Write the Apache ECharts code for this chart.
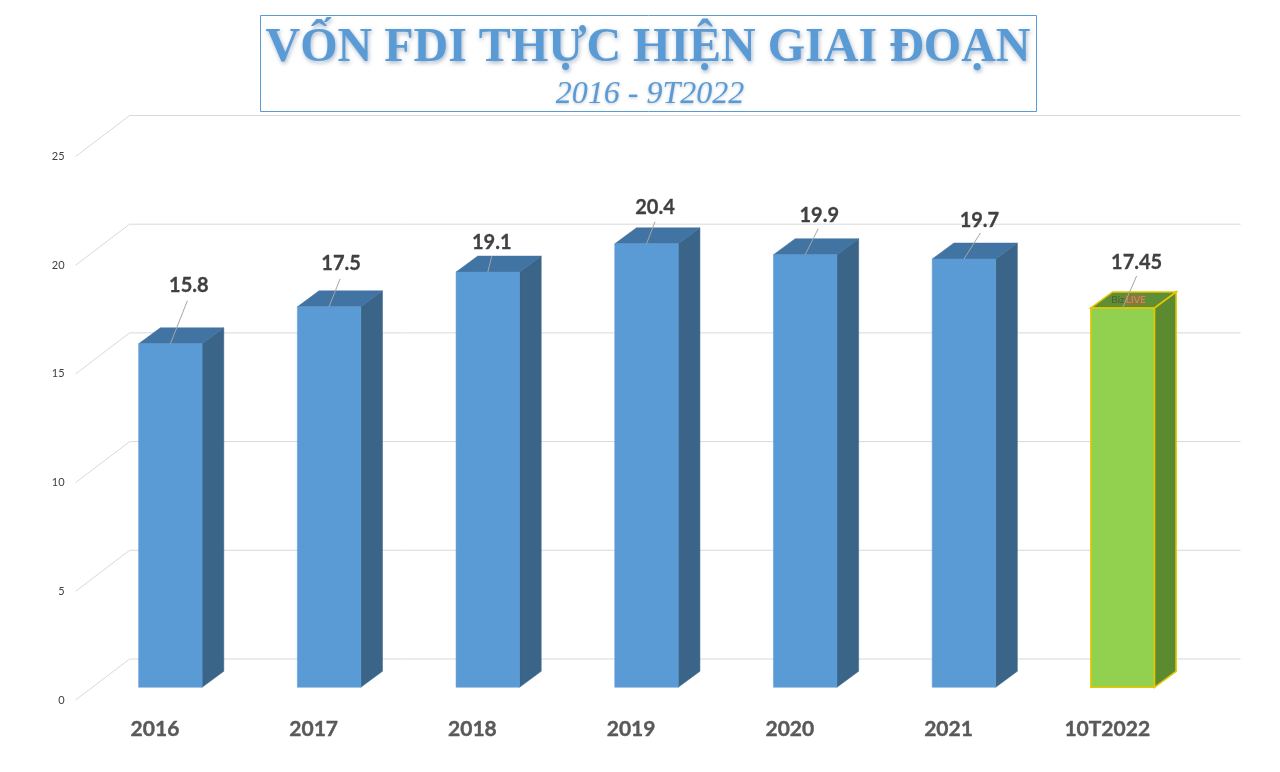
<!DOCTYPE html>
<html><head><meta charset="utf-8">
<style>html,body{margin:0;padding:0;background:#fff}#c{width:1280px;height:772px}</style>
<script src="https://cdn.jsdelivr.net/npm/echarts@6/dist/echarts.min.js"></script>
</head><body><div id="c"></div>
<script>
const categories = ['2016','2017','2018','2019','2020','2021','10T2022'];
const fdiValues = [15.8,17.5,19.1,20.4,19.9,19.7,17.45];
const yTicks = [0,5,10,15,20,25];
const highlightIndex = 6;
const titleText = 'VỐN FDI THỰC HIỆN GIAI ĐOẠN';
const subtitleText = '2016 - 9T2022';

// 3D projection style
const wall = {dx:54, dy:-41};
const barOffset = {dx:15.4, dy:-12.7};
const barDepth = {dx:21.7, dy:-16};
const barShare = 0.4;
// label / leader placement relative to each bar's front top-centre
const labelShift = [[18.5,-58],[12,-43],[4,-29.5],[8.5,-36.5],[14,-39],[15.5,-38],[14,-45]];
const leaderStart = [[17,-43],[11,-28],[4,-16],[8.5,-22],[13,-26],[16.5,-26],[14,-32]];

const chart = echarts.init(document.getElementById('c'),null,{renderer:'canvas'});

function poly(points,fill,stroke,lw){
  return {type:'polygon',shape:{points},style:{fill,stroke:stroke||fill,lineWidth:lw||0.5}};
}
function renderBar(params,api){
  const i=api.value(0), v=api.value(1);
  const top=api.coord([i,v]), base=api.coord([i,0]);
  const w=api.size([1,0])[0]*barShare;
  const cx=top[0]+barOffset.dx;
  const l=cx-w/2, r=cx+w/2, yt=top[1]+barOffset.dy, yb=base[1]+barOffset.dy;
  const d=barDepth, hi=i===highlightIndex;
  const stroke=hi?'#E5C700':null, lw=hi?1.6:0.5;
  const s=labelShift[i], ls=leaderStart[i];
  const children=[
    poly([[r,yt],[r+d.dx,yt+d.dy],[r+d.dx,yb+d.dy],[r,yb]],hi?'#5B8A30':'#3A6488',stroke,lw),
    poly([[l,yt],[l+d.dx,yt+d.dy],[r+d.dx,yt+d.dy],[r,yt]],hi?'#5F8F35':'#4173A3',stroke,lw),
    poly([[l,yt],[r,yt],[r,yb],[l,yb]],hi?'#92D050':'#5B9BD5',stroke,lw)
  ];
  if(hi){
    children.push(
      {type:'rect',shape:{x:cx+2,y:yt-13,width:20,height:10},style:{fill:'#9A7040',opacity:0.8}},
      {type:'text',style:{x:cx+2,y:yt-8,text:'Biz',align:'right',verticalAlign:'middle',font:'10px Lato',fill:'#4F5A3A'}},
      {type:'text',style:{x:cx+3,y:yt-8,text:'LIVE',align:'left',verticalAlign:'middle',font:'10px Lato',fill:'#C9935A'}}
    );
  }
  children.push(
    {type:'line',shape:{x1:cx+ls[0],y1:yt+ls[1],x2:cx,y2:yt},style:{stroke:'#A6A6A6',lineWidth:1}},
    {type:'text',style:{x:cx+s[0],y:yt+s[1],text:String(v),align:'center',verticalAlign:'middle',
      font:'bold 20px Lato',fill:'#404040',stroke:'#404040',lineWidth:0.3}}
  );
  return {type:'group',children};
}
function renderGrid(params,api){
  const t=api.value(1);
  const y=api.coord([0,t])[1];
  const cs=params.coordSys;
  return {type:'polyline',shape:{points:[[cs.x,y],[cs.x+wall.dx,y+wall.dy],[cs.x+cs.width+wall.dx,y+wall.dy]]},
    style:{fill:'none',stroke:'#D9D9D9',lineWidth:1}};
}
chart.setOption({
  animation:false,
  backgroundColor:'#fff',
  grid:{left:75.6,width:1111,top:156.5,height:543.5,containLabel:false},
  title:[
    {text:titleText,left:643,top:20,textAlign:'center',textStyle:{fontFamily:'Liberation Serif',fontWeight:'bold',fontSize:48,color:'#5B9BD5',textShadowColor:'rgba(60,90,130,0.45)',textShadowBlur:4,textShadowOffsetX:1,textShadowOffsetY:2}},
    {text:subtitleText,left:645,top:74,textAlign:'center',textStyle:{fontFamily:'Liberation Serif',fontStyle:'italic',fontWeight:'normal',fontSize:32,color:'#5B9BD5',textShadowColor:'rgba(60,90,130,0.35)',textShadowBlur:3,textShadowOffsetY:1}}
  ],
  graphic:[{type:'rect',z:-1,shape:{x:260.5,y:15.5,width:776,height:96},style:{fill:'#fff',stroke:'#5B9BD5',lineWidth:1}}],
  xAxis:{type:'category',data:categories,axisLine:{show:false},axisTick:{show:false},
    axisLabel:{margin:19,fontFamily:'Lato',fontWeight:'bold',fontSize:21,color:'#595959',textBorderColor:'#595959',textBorderWidth:0.4}},
  yAxis:{type:'value',min:0,max:25,interval:5,axisLine:{show:false},axisTick:{show:false},splitLine:{show:false},
    axisLabel:{margin:11,fontFamily:'Lato',fontSize:11,color:'#404040',lineHeight:12}},
  series:[
    {type:'custom',z:1,clip:false,renderItem:renderGrid,encode:{x:0,y:1},silent:true,
      data:yTicks.map(t=>[0,t])},
    {type:'custom',z:2,clip:false,renderItem:renderBar,encode:{x:0,y:1},silent:true,
      data:fdiValues.map((v,i)=>[i,v])}
  ]
});
</script></body></html>
